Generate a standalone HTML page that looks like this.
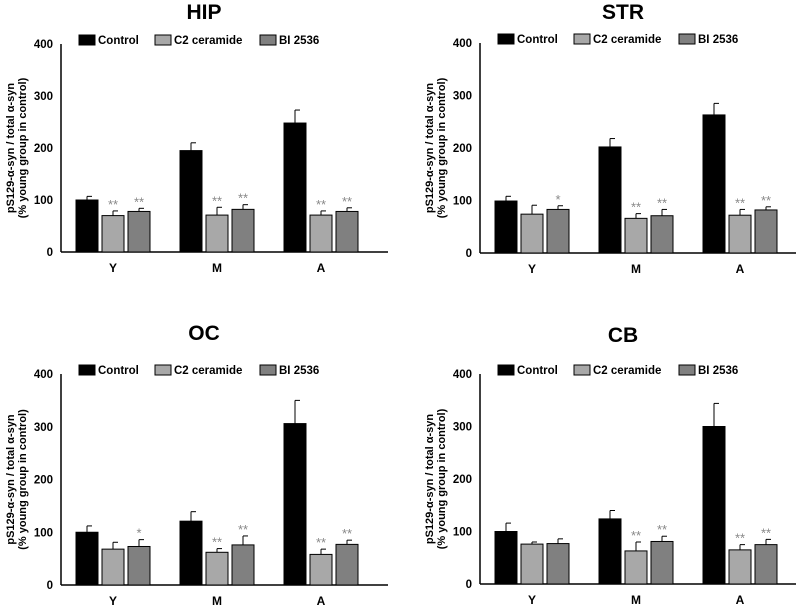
<!DOCTYPE html>
<html><head><meta charset="utf-8">
<style>
html,body{margin:0;padding:0;background:#fff;}
svg{display:block;font-family:"Liberation Sans",Arial,sans-serif;}
</style></head>
<body>
<svg id="chart" width="796" height="605" viewBox="0 0 796 605" xmlns="http://www.w3.org/2000/svg"></svg>
<script>
const categories = ["Y","M","A"];
const seriesNames = ["Control","C2 ceramide","BI 2536"];
const yTicks = [0,100,200,300,400];
const panelTitles = ["HIP","STR","OC","CB"];
const hipControl = [100,195,248], hipControlErr = [7,15,25];
const hipC2 = [70,71,71], hipC2Err = [9,15,8];
const hipBI = [78,82,78], hipBIErr = [6,9,7];
const hipStars = [["","**","**"],["","**","**"],["","**","**"]];
const strControl = [99,202,263], strControlErr = [9,16,22];
const strC2 = [74,66,72], strC2Err = [17,9,11];
const strBI = [83,71,82], strBIErr = [7,12,6];
const strStars = [["","","*"],["","**","**"],["","**","**"]];
const ocControl = [100,121,306], ocControlErr = [12,18,44];
const ocC2 = [68,62,58], ocC2Err = [13,7,10];
const ocBI = [73,76,77], ocBIErr = [13,17,8];
const ocStars = [["","","*"],["","**","**"],["","**","**"]];
const cbControl = [100,124,300], cbControlErr = [16,16,44];
const cbC2 = [76,63,65], cbC2Err = [4,17,10];
const cbBI = [77,81,75], cbBIErr = [9,10,10];
const cbStars = [["","",""],["","**","**"],["","**","**"]];

const svg = document.getElementById('chart');
const NS = 'http://www.w3.org/2000/svg';
function mk(tag, attrs, parent){
  const e = document.createElementNS(NS, tag);
  for (const k in attrs) e.setAttribute(k, attrs[k]);
  (parent||svg).appendChild(e);
  return e;
}
const fills = ["#000000","#a8a8a8","#808080"];

function panel(idx, ox, y0, y400, titleY, vals, errs, stars){
  const g = mk('g', {});
  
  
  const axX = ox + 61;
  const yScale = v => y0 - (v/400)*(y0-y400);
  const xScale = (ci, si) => ox + 76 + ci*104 + si*26;
  const t = mk('text', {x: ox+204, y: titleY, 'text-anchor':'middle', 'font-size':21, 'font-weight':'bold'}, g);
  t.textContent = panelTitles[idx];
  
  
  const ya = mk('line', {x1:axX, y1:y400, x2:axX, y2:y0, stroke:'#000', 'stroke-width':1.5}, g);
  
  
  const xa = mk('line', {x1:axX, y1:y0, x2:ox+388, y2:y0, stroke:'#000', 'stroke-width':1.5}, g);
  
  
  yTicks.forEach(v => {
    const tl = mk('text', {x:axX-8, y:yScale(v)+4, 'text-anchor':'end', 'font-size':11.5, 'font-weight':'bold'}, g);
    tl.textContent = v;
    
    
  });
  const midY = (y0+y400)/2;
  const yt = mk('text', {transform:`translate(${ox+14},${midY}) rotate(-90)`, 'text-anchor':'middle', 'font-size':11, 'font-weight':'bold'}, g);
  yt.textContent = 'pS129-α-syn / total α-syn';
  
  
  const yt2 = mk('text', {transform:`translate(${ox+26},${midY}) rotate(-90)`, 'text-anchor':'middle', 'font-size':11, 'font-weight':'bold'}, g);
  yt2.textContent = '(% young group in control)';
  
  
  categories.forEach((c, ci) => {
    for (let si=0; si<3; si++){
      const v = vals[si][ci], e = errs[si][ci];
      const x = xScale(ci, si), w = 22;
      const top = yScale(v), et = yScale(v+e);
      const el = mk('line', {x1:x+w/2, y1:top, x2:x+w/2, y2:et, stroke:'#000', 'stroke-width':1}, g);
      
      
      const cap = mk('line', {x1:x+w/2, y1:et, x2:x+w/2+5, y2:et, stroke:'#000', 'stroke-width':1}, g);
      
      
      const r = mk('rect', {x:x, y:top, width:w, height:y0-top, fill:fills[si], stroke:'#000', 'stroke-width':1}, g);
      
      
      const s = stars[ci][si];
      if (s){
        const st = mk('text', {x:x+w/2, y:et-2, 'text-anchor':'middle', 'font-size':13, fill:'#888'}, g);
        st.textContent = s;
        
        
      }
    }
    const cl = mk('text', {x:xScale(ci,1)+11, y:y0+20, 'text-anchor':'middle', 'font-size':12, 'font-weight':'bold'}, g);
    cl.textContent = c;
    
    
  });
  const ly = y400 - 4;
  const lx = [ox+79, ox+155, ox+260];
  seriesNames.forEach((n, si) => {
    const b = mk('rect', {x:lx[si], y:ly-5, width:16, height:10, fill:fills[si], stroke:'#000', 'stroke-width':1}, g);
    
    
    const lt = mk('text', {x:lx[si]+19, y:ly+4, 'font-size':11.5, 'font-weight':'bold'}, g);
    lt.textContent = n;
    
    
  });
}
panel(0, 0, 252, 44, 19, [hipControl,hipC2,hipBI], [hipControlErr,hipC2Err,hipBIErr], hipStars);
panel(1, 419, 253, 43, 19, [strControl,strC2,strBI], [strControlErr,strC2Err,strBIErr], strStars);
panel(2, 0, 585, 374, 340, [ocControl,ocC2,ocBI], [ocControlErr,ocC2Err,ocBIErr], ocStars);
panel(3, 419, 584, 374, 342, [cbControl,cbC2,cbBI], [cbControlErr,cbC2Err,cbBIErr], cbStars);
</script>
</body></html>
